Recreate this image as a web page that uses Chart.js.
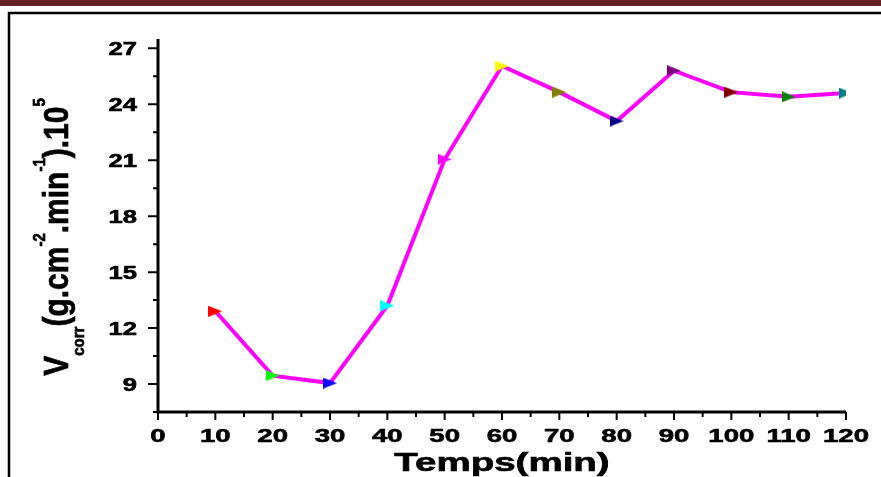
<!DOCTYPE html>
<html>
<head>
<meta charset="utf-8">
<script src="https://cdn.jsdelivr.net/npm/chart.js@4"></script>
<style>
  body { margin: 0; background: #fff; }
  canvas { display: block; }
</style>
</head>
<body>
<canvas id="vcorrChart" width="881" height="477"></canvas>
<script>
// temps d'immersion (min) et vitesse de corrosion
const temps = [10, 20, 30, 40, 50, 60, 70, 80, 90, 100, 110, 120];
const vcorr = [12.9, 9.45, 9.05, 13.2, 21.05, 26.05, 24.65, 23.1, 25.8, 24.65, 24.4, 24.6];
const markerColors = ['#ff0000', '#00ff00', '#0000ff', '#00ffff', '#ff00ff', '#ffff00',
                      '#808000', '#000080', '#800080', '#800000', '#008000', '#008080'];
const xTicks = [0, 10, 20, 30, 40, 50, 60, 70, 80, 90, 100, 110, 120];
const yTicks = [9, 12, 15, 18, 21, 24, 27];

const FONT = 'Liberation Sans, Arial, sans-serif';

// petit triangle vers la droite, un par couleur
function makeTriangle(color) {
  const c = document.createElement('canvas');
  c.width = 14; c.height = 11;
  const g = c.getContext('2d');
  g.fillStyle = color;
  g.beginPath();
  g.moveTo(0, 0);
  g.lineTo(14, 5.5);
  g.lineTo(0, 11);
  g.closePath();
  g.fill();
  return c;
}
const markers = markerColors.map(makeTriangle);

// texte étiré horizontalement, un peu épaissi
function wideText(ctx, text, x, y, sx) {
  ctx.save();
  ctx.translate(x, y);
  ctx.scale(sx, 1);
  ctx.fillText(text, 0, 0);
  ctx.lineWidth = 0.6;
  ctx.strokeText(text, 0, 0);
  ctx.restore();
}

function minorOf(ticks, min, max) {
  const step = ticks[1] - ticks[0];
  const out = [];
  ticks.forEach(t => {
    [t - step / 2, t + step / 2].forEach(m => {
      if (m >= min && m <= max && !out.includes(m)) out.push(m);
    });
  });
  return out;
}

const framePlugin = {
  id: 'frame',
  beforeDraw(chart) {
    const ctx = chart.ctx;
    ctx.save();
    ctx.fillStyle = '#fff';
    ctx.fillRect(0, 0, chart.width, chart.height);
    ctx.fillStyle = '#622022';
    ctx.fillRect(0, 0, chart.width, 6);
    ctx.strokeStyle = '#000';
    ctx.lineWidth = 2.5;
    ctx.strokeRect(9, 13, chart.width + 20, chart.height + 20);
    ctx.restore();
  }
};

const axesPlugin = {
  id: 'axes',
  afterDraw(chart) {
    const ctx = chart.ctx;
    const xs = chart.scales.x, ys = chart.scales.y;
    const a = chart.chartArea;
    ctx.save();
    ctx.strokeStyle = '#000';
    ctx.fillStyle = '#000';

    // lignes des axes
    ctx.lineWidth = 3;
    ctx.beginPath();
    ctx.moveTo(a.left, a.top);
    ctx.lineTo(a.left, a.bottom + 1.5);
    ctx.moveTo(a.left - 1.5, a.bottom);
    ctx.lineTo(a.right, a.bottom);
    ctx.stroke();

    // graduations
    ctx.lineWidth = 2;
    ctx.beginPath();
    yTicks.forEach(v => {
      const y = ys.getPixelForValue(v);
      ctx.moveTo(a.left, y); ctx.lineTo(a.left - 10, y);
    });
    minorOf(yTicks, ys.min, ys.max).forEach(v => {
      const y = ys.getPixelForValue(v);
      ctx.moveTo(a.left, y); ctx.lineTo(a.left - 5, y);
    });
    xTicks.forEach(v => {
      const x = xs.getPixelForValue(v);
      ctx.moveTo(x, a.bottom); ctx.lineTo(x, a.bottom + 8);
    });
    minorOf(xTicks, xs.min, xs.max).forEach(v => {
      const x = xs.getPixelForValue(v);
      ctx.moveTo(x, a.bottom); ctx.lineTo(x, a.bottom + 5);
    });
    ctx.stroke();

    // étiquettes
    ctx.font = 'bold 18px ' + FONT;
    ctx.textBaseline = 'alphabetic';
    ctx.textAlign = 'right';
    yTicks.forEach(v => {
      wideText(ctx, String(v), a.left - 21, ys.getPixelForValue(v) + 6.5, 1.42);
    });
    ctx.font = 'bold 19px ' + FONT;
    ctx.textAlign = 'center';
    xTicks.forEach(v => {
      wideText(ctx, String(v), xs.getPixelForValue(v), a.bottom + 30, 1.45);
    });

    // titre de l'axe x
    ctx.font = 'bold 25px ' + FONT;
    wideText(ctx, 'Temps(min)', (a.left + a.right) / 2, 471, 1.54);

    // titre de l'axe y : V_corr (g.cm^-2.min^-1).10^5
    const parts = [
      ['V', 'main'], ['corr', 'sub'], ['(g.cm', 'main'], ['-2', 'sup'],
      ['.min', 'main'], ['-1', 'sup'], [').10', 'main'], ['5', 'sup']
    ];
    const fMain = 'bold 30px ' + FONT, fSmall = 'bold 15px ' + FONT;
    let total = 0;
    parts.forEach(p => {
      ctx.font = p[1] === 'main' ? fMain : fSmall;
      total += ctx.measureText(p[0]).width;
    });
    ctx.translate(68, 237);
    ctx.rotate(-Math.PI / 2);
    ctx.scale(1, 1.16);
    ctx.textAlign = 'left';
    ctx.lineWidth = 0.6;
    let x = -total / 2;
    parts.forEach(p => {
      ctx.font = p[1] === 'main' ? fMain : fSmall;
      const dy = p[1] === 'sub' ? 14 : p[1] === 'sup' ? -20 : 0;
      ctx.fillText(p[0], x, dy);
      ctx.strokeText(p[0], x, dy);
      x += ctx.measureText(p[0]).width;
    });
    ctx.restore();
  }
};

new Chart(document.getElementById('vcorrChart'), {
  type: 'line',
  data: {
    labels: temps,
    datasets: [{
      data: temps.map((t, i) => ({ x: t, y: vcorr[i] })),
      borderColor: '#ff00ff',
      borderWidth: 4,
      pointStyle: markers,
      pointRadius: 7,
      tension: 0,
      clip: 0
    }]
  },
  options: {
    responsive: false,
    animation: false,
    devicePixelRatio: 1,
    layout: { padding: { left: 158, top: 39, right: 35, bottom: 65 } },
    plugins: {
      legend: { display: false },
      tooltip: { enabled: false }
    },
    scales: {
      x: { type: 'linear', min: 0, max: 120, display: false },
      y: { min: 7.5, max: 27.5, display: false }
    }
  },
  plugins: [framePlugin, axesPlugin]
});
</script>
</body>
</html>
